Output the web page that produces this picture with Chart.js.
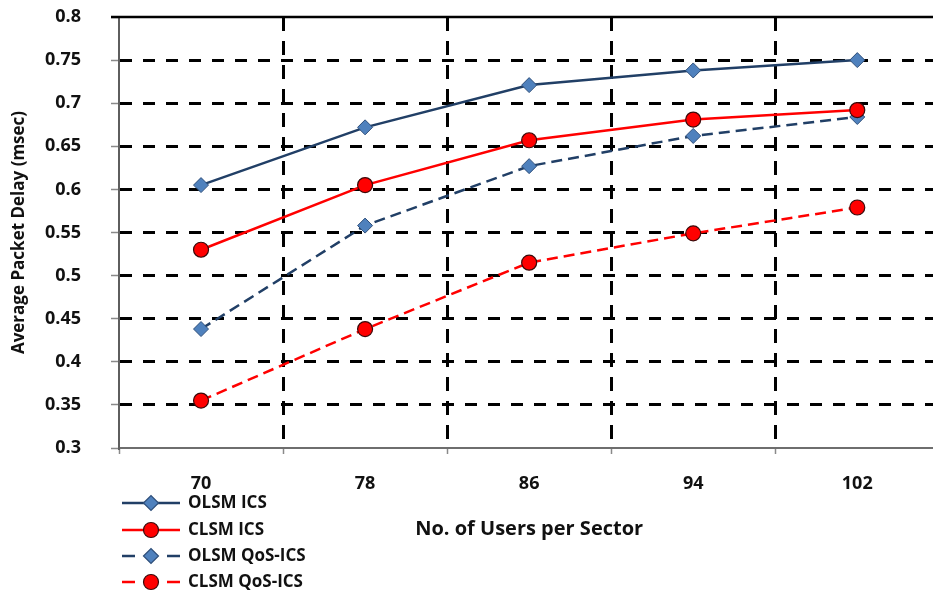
<!DOCTYPE html>
<html>
<head>
<meta charset="utf-8">
<script src="https://cdn.jsdelivr.net/npm/chart.js@4"></script>
<style>
  html, body { margin: 0; padding: 0; background: #fff; overflow: hidden; }
  #wrap { position: relative; width: 948px; height: 592px; }
</style>
</head>
<body>
<div id="wrap"><canvas id="delay-chart" width="948" height="592"></canvas></div>
<script>
// users per sector on the x axis
const users = ['70', '78', '86', '94', '102'];

// average packet delay (msec) per scheme
const olsmIcs = [0.605, 0.672, 0.721, 0.738, 0.750];
const clsmIcs = [0.530, 0.605, 0.657, 0.681, 0.692];
const olsmQos = [0.438, 0.558, 0.627, 0.662, 0.684];
const clsmQos = [0.355, 0.438, 0.515, 0.549, 0.579];

const seriesNames = ['OLSM ICS', 'CLSM ICS', 'OLSM QoS-ICS', 'CLSM QoS-ICS'];

const yMin = 0.3, yMax = 0.8, yStep = 0.05;

const FONT = '"Open Sans", "DejaVu Sans", sans-serif';
const NAVY = '#213f66';
const BLUE_FILL = '#4f81bd';
const BLUE_EDGE = '#2f4f7a';
const RED = '#ff0000';
const RED_EDGE = '#3a0a0a';

function blueSet(label, data, dashed) {
    return {
        label: label,
        data: data,
        borderColor: NAVY,
        borderWidth: 2.5,
        borderDash: dashed ? [11, 6] : [],
        pointStyle: 'rectRot',
        pointRadius: 7.5,
        pointBackgroundColor: BLUE_FILL,
        pointBorderColor: BLUE_EDGE,
        pointBorderWidth: 1,
        tension: 0
    };
}

function redSet(label, data, dashed) {
    return {
        label: label,
        data: data,
        borderColor: RED,
        borderWidth: 2.5,
        borderDash: dashed ? [11, 6] : [],
        pointStyle: 'circle',
        pointRadius: 7.5,
        pointBackgroundColor: RED,
        pointBorderColor: RED_EDGE,
        pointBorderWidth: 1.2,
        tension: 0
    };
}

// solid frame line along the top of the plot area
const topBorder = {
    id: 'topBorder',
    afterDraw(chart) {
        const {ctx, chartArea} = chart;
        ctx.save();
        ctx.strokeStyle = '#000';
        ctx.lineWidth = 2.5;
        ctx.beginPath();
        ctx.moveTo(chartArea.left - 8, chartArea.top);
        ctx.lineTo(chartArea.right, chartArea.top);
        ctx.stroke();
        ctx.restore();
    }
};

// stacked legend in the lower-left corner
const sideLegend = {
    id: 'sideLegend',
    afterDraw(chart) {
        const ctx = chart.ctx;
        const rows = [503, 530, 556, 582];
        const x0 = 122, x1 = 180, xm = 151;
        ctx.save();
        chart.data.datasets.forEach((ds, i) => {
            const y = rows[i];
            ctx.strokeStyle = ds.borderColor;
            ctx.lineWidth = 2.5;
            ctx.beginPath();
            if (ds.borderDash.length) {
                ctx.moveTo(x0, y); ctx.lineTo(x0 + 13, y);
                ctx.moveTo(x1 - 13, y); ctx.lineTo(x1, y);
            } else {
                ctx.moveTo(x0, y); ctx.lineTo(x1, y);
            }
            ctx.stroke();
            ctx.fillStyle = ds.pointBackgroundColor;
            ctx.strokeStyle = ds.pointBorderColor;
            ctx.lineWidth = 1.2;
            Chart.helpers.drawPoint(ctx, {
                pointStyle: ds.pointStyle,
                radius: 7.5,
                borderWidth: 1.2,
                rotation: 0
            }, xm, y);
            ctx.fillStyle = '#111';
            ctx.font = 'bold 17px ' + FONT;
            ctx.textAlign = 'left';
            ctx.textBaseline = 'middle';
            ctx.fillText(ds.label, 188, y);
        });
        ctx.restore();
    }
};

const data = {
    labels: users,
    datasets: [
        blueSet(seriesNames[0], olsmIcs, false),
        redSet(seriesNames[1], clsmIcs, false),
        blueSet(seriesNames[2], olsmQos, true),
        redSet(seriesNames[3], clsmQos, true)
    ]
};

const config = {
    type: 'line',
    data: data,
    options: {
        responsive: false,
        animation: false,
        devicePixelRatio: 1,
        layout: {
            padding: {top: 17, right: 5, bottom: 0, left: 0}
        },
        plugins: {
            legend: {display: false},
            tooltip: {enabled: false}
        },
        scales: {
            x: {
                type: 'category',
                offset: true,
                afterFit(scale) {
                    scale.height = 144;
                    scale.paddingLeft = 0;
                    scale.paddingRight = 0;
                },
                border: {display: true, color: '#6e6e6e', width: 2, dash: [14, 10]},
                grid: {
                    offset: true,
                    color: (c) => c.index === 0 ? 'rgba(0,0,0,0)' : '#000',
                    lineWidth: 3,
                    drawTicks: true,
                    tickLength: 6,
                    tickColor: '#8a8a8a',
                    tickWidth: 1.5,
                    tickBorderDash: []
                },
                ticks: {
                    color: '#111',
                    padding: 19,
                    font: {family: FONT, size: 18, weight: 'bold'}
                },
                title: {
                    display: true,
                    text: 'No. of Users per Sector',
                    color: '#111',
                    font: {family: FONT, size: 20, weight: 'bold'},
                    padding: {top: 51, bottom: 51}
                }
            },
            y: {
                min: yMin,
                max: yMax,
                afterFit(scale) {
                    scale.width = 119;
                    scale.paddingTop = 0;
                    scale.paddingBottom = 0;
                },
                border: {display: true, color: '#5e5e5e', width: 2, dash: [12, 11]},
                grid: {
                    color: (c) => (c.tick && (Math.abs(c.tick.value - yMin) < 1e-6 || Math.abs(c.tick.value - yMax) < 1e-6)) ? 'rgba(0,0,0,0)' : '#000',
                    lineWidth: 3,
                    tickLength: 8,
                    tickColor: '#8a8a8a',
                    tickWidth: 1.5,
                    tickBorderDash: []
                },
                ticks: {
                    stepSize: yStep,
                    color: '#111',
                    padding: 30,
                    font: {family: FONT, size: 18, weight: 'bold'},
                    callback: (v) => String(+v.toFixed(2))
                },
                title: {
                    display: true,
                    text: 'Average Packet Delay (msec)',
                    color: '#111',
                    font: {family: FONT, size: 17, weight: 'bold'},
                    padding: {top: 9, bottom: 4}
                }
            }
        }
    },
    plugins: [topBorder, sideLegend]
};

new Chart(document.getElementById('delay-chart').getContext('2d'), config);
</script>
</body>
</html>
